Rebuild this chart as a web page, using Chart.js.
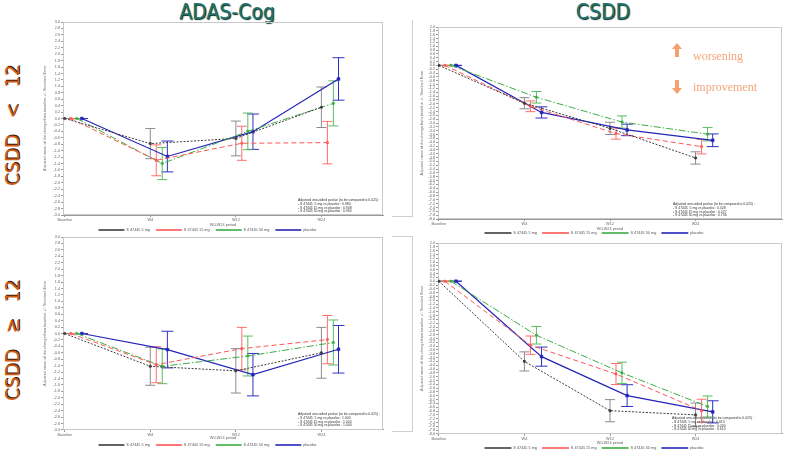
<!DOCTYPE html>
<html>
<head>
<meta charset="utf-8">
<script src="https://cdn.jsdelivr.net/npm/chart.js@4.4.0/dist/chart.umd.min.js"></script>
<style>
body { margin: 0; width: 789px; height: 452px; background: #fff; position: relative; overflow: hidden; }
canvas { position: absolute; }
.title { position: absolute; top: 1px; font-family: "DejaVu Sans Condensed", "DejaVu Sans"; font-size: 21px; line-height: 22px; color: #1d756e; text-shadow: 1px 1px 1px #062b28; transform: translateX(-50%); white-space: nowrap; }
.row { position: absolute; left: 2px; font-family: "DejaVu Sans Condensed", "DejaVu Sans"; font-size: 20px; line-height: 20px; color: #cf5d16; text-shadow: 1px 1px 0 #3b1700; white-space: nowrap; transform-origin: 0 0; transform: rotate(-90deg); word-spacing: 10px; }
.edge { position: absolute; border: 1px solid #cfcfcf; border-left: none; }
.note { position: absolute; font-family: "Liberation Serif"; font-size: 12px; line-height: 12px; color: #f4a57a; }
.up, .down { position: absolute; width: 10px; height: 14px; }
.up::before, .down::before { content: ""; position: absolute; left: 0; border-left: 5px solid transparent; border-right: 5px solid transparent; }
.up::before { top: 0; border-bottom: 6px solid #f4a070; }
.down::before { bottom: 0; border-top: 6px solid #f4a070; }
.up::after, .down::after { content: ""; position: absolute; left: 3px; width: 4px; height: 8px; background: #f4a070; }
.up::after { top: 6px; }
.down::after { top: 0; }
</style>
</head>
<body>
<div class="title" style="left:227px">ADAS-Cog</div>
<div class="title" style="left:603px">CSDD</div>
<div class="row" style="top:186px">CSDD &lt; 12</div>
<div class="row" style="top:401px">CSDD ≥ 12</div>
<div class="edge" style="left:392px; top:20px; width:20px; height:196px; border-top:none"></div>
<div class="edge" style="left:392px; top:236px; width:20px; height:194px"></div>

<canvas id="adasLow"></canvas>
<canvas id="csddLow"></canvas>
<canvas id="adasHigh"></canvas>
<canvas id="csddHigh"></canvas>

<div class="up" style="left:672px; top:43px"></div>
<div class="note" style="left:693px; top:50px">worsening</div>
<div class="down" style="left:672px; top:80px"></div>
<div class="note" style="left:693px; top:81px">improvement</div>

<script>
const visits = ['Baseline', 'W4', 'W12', 'W24'];
const groups = ['S 47445 5 mg', 'S 47445 15 mg', 'S 47445 50 mg', 'placebo'];
const shift = [0, 0.07, 0.14, 0.2];

// ADAS-Cog, CSDD < 12
const adasLowMean = [
    [0, -0.78, -0.62, 0.35],
    [0, -1.30, -0.77, -0.75],
    [0, -1.40, -0.40, 0.47],
    [0, -1.18, -0.41, 1.23]
];
const adasLowSe = [
    [0, 0.47, 0.54, 0.63],
    [0, 0.48, 0.53, 0.66],
    [0, 0.50, 0.57, 0.70],
    [0, 0.48, 0.55, 0.66]
];
const adasLowP = ['0.980', '0.948', '0.960'];

// CSDD, CSDD < 12
const csddLowMean = [
    [0, -1.97, -3.28, -4.82],
    [0, -2.13, -3.55, -4.23],
    [0, -1.66, -2.95, -3.58],
    [0, -2.45, -3.36, -3.90]
];
const csddLowSe = [
    [0, 0.29, 0.32, 0.32],
    [0, 0.28, 0.29, 0.38],
    [0, 0.30, 0.32, 0.35],
    [0, 0.29, 0.30, 0.33]
];
const csddLowP = ['0.028', '0.227', '0.736'];

// ADAS-Cog, CSDD >= 12
const adasHighMean = [
    [0, -1.02, -1.16, -0.60],
    [0, -0.97, -0.47, -0.19],
    [0, -1.02, -0.70, -0.28],
    [0, -0.50, -1.28, -0.49]
];
const adasHighSe = [
    [0, 0.59, 0.69, 0.79],
    [0, 0.56, 0.66, 0.75],
    [0, 0.54, 0.62, 0.70],
    [0, 0.57, 0.66, 0.74]
];
const adasHighP = ['1.000', '1.000', '1.000'];

// CSDD, CSDD >= 12
const csddHighMean = [
    [0, -4.20, -6.78, -7.00],
    [0, -3.35, -4.86, -6.78],
    [0, -2.83, -4.80, -6.56],
    [0, -3.95, -5.99, -6.84]
];
const csddHighSe = [
    [0, 0.50, 0.58, 0.62],
    [0, 0.48, 0.55, 0.60],
    [0, 0.46, 0.56, 0.55],
    [0, 0.50, 0.57, 0.58]
];
const csddHighP = ['0.013', '0.030', '0.610'];

const lineColor = ['#3c3c3c', '#ff5656', '#3dac48', '#2424b8'];
const barColor = ['#8c8c8c', '#ff6e6e', '#5abd62', '#3030c4'];
const dashes = [[2, 1.5], [5, 3], [7, 2, 1.5, 2], []];
const small = { family: 'Liberation Sans', size: 3.8 };
const grey = '#666';

const framePlugin = {
    id: 'frame',
    beforeDatasetsDraw(chart) {
        const a = chart.chartArea;
        const ctx = chart.ctx;
        ctx.save();
        ctx.strokeStyle = '#c8c8c8';
        ctx.lineWidth = 1;
        ctx.strokeRect(a.left + 0.5, a.top + 0.5, a.right - a.left - 1, a.bottom - a.top - 1);
        ctx.restore();
    }
};

const notesPlugin = {
    id: 'notes',
    afterDraw(chart, args, opts) {
        const ctx = chart.ctx;
        ctx.save();
        ctx.font = '3.4px "Liberation Sans"';
        ctx.fillStyle = '#333';
        ctx.textBaseline = 'middle';
        opts.lines.forEach(function (t, i) {
            ctx.fillText(t, opts.x, opts.y + i * 3.8);
        });
        ctx.restore();
    }
};

function legendItems(chart) {
    const items = Chart.defaults.plugins.legend.labels.generateLabels(chart);
    items.forEach(function (it) { it.lineWidth = 1.6; });
    return items;
}

function makeChart(id, box, means, ses, pvals, yMin, yMax, xMin, xMax) {
    const canvas = document.getElementById(id);
    const xh = 7;
    const legendTop = box.bottom + xh;
    const pad = box.legendY - legendTop - small.size / 2;
    const legendH = small.size + pad + 10;
    const h = Math.ceil(legendTop + legendH + 1 - box.top0);
    const padBottom = h - (legendTop + legendH - box.top0);
    const lh = small.size * 1.2;
    canvas.width = box.width;
    canvas.height = h;
    canvas.style.left = box.left0 + 'px';
    canvas.style.top = box.top0 + 'px';

    let datasets = [];
    groups.forEach(function (g, s) {
        datasets.push({
            label: g,
            data: visits.map(function (v, i) { return { x: i + shift[s], y: means[s][i] }; }),
            borderColor: lineColor[s],
            backgroundColor: lineColor[s],
            borderWidth: s === 3 ? 1.2 : 1,
            borderDash: dashes[s],
            pointStyle: s === 3 ? 'rect' : 'circle',
            pointRadius: s === 3 ? 2 : 1.3,
            pointBorderWidth: 0.5,
            tension: 0
        });
    });
    groups.forEach(function (g, s) {
        visits.forEach(function (v, i) {
            const x = i + shift[s];
            datasets.push({
                label: 'se',
                data: [{ x: x, y: means[s][i] - ses[s][i] }, { x: x, y: means[s][i] + ses[s][i] }],
                borderColor: barColor[s],
                borderWidth: 1,
                pointStyle: 'line',
                pointRadius: s === 3 ? 6 : 5,
                pointBorderColor: barColor[s],
                pointBorderWidth: 1
            });
        });
    });

    const notes = ['Adjusted one-sided pvalue (to be compared to 0.025) :'];
    ['5', '15', '50'].forEach(function (d, i) {
        notes.push('- S 47445 ' + (d.length < 2 ? ' ' : '') + d + ' mg vs placebo : ' + pvals[i]);
    });

    return new Chart(canvas, {
        type: 'line',
        data: { datasets: datasets },
        plugins: [framePlugin, notesPlugin],
        options: {
            responsive: false,
            animation: false,
            events: [],
            layout: {
                padding: {
                    top: box.top - box.top0,
                    right: box.left0 + box.width - box.right,
                    bottom: padBottom,
                    left: 0
                }
            },
            plugins: {
                tooltip: { enabled: false },
                legend: {
                    position: 'bottom',
                    labels: {
                        generateLabels: legendItems,
                        filter: function (item) { return item.datasetIndex < 4; },
                        usePointStyle: true,
                        pointStyle: 'line',
                        pointStyleWidth: 32 - pad,
                        padding: pad,
                        color: '#555',
                        font: small
                    }
                },
                notes: { lines: notes, x: box.noteX - box.left0, y: box.noteY - box.top0 }
            },
            scales: {
                x: {
                    type: 'linear',
                    min: xMin,
                    max: xMax,
                    afterFit: function (scale) { scale.height = xh; },
                    ticks: {
                        stepSize: 1,
                        includeBounds: false,
                        callback: function (v) { return visits[v]; },
                        autoSkip: false,
                        maxRotation: 0,
                        padding: 1,
                        font: small,
                        color: grey
                    },
                    grid: { drawOnChartArea: false, tickLength: 2, color: '#999' },
                    border: { color: '#999' },
                    title: {
                        display: true,
                        text: 'W0-W24 period',
                        font: small,
                        color: grey,
                        padding: { top: 0, bottom: legendTop - lh / 2 - box.xTitleY }
                    }
                },
                y: {
                    min: yMin,
                    max: yMax,
                    afterFit: function (scale) { scale.width = box.left - box.left0; },
                    ticks: {
                        stepSize: 0.2,
                        maxTicksLimit: 80,
                        autoSkip: false,
                        padding: 1,
                        font: small,
                        color: grey,
                        callback: function (v) { return (Math.abs(v) < 1e-9 ? 0 : v).toFixed(1); }
                    },
                    grid: { drawOnChartArea: false, tickLength: 2, color: '#999' },
                    border: { color: '#999' },
                    title: {
                        display: true,
                        text: 'Adjusted mean of the change from baseline +/- Standard Error',
                        font: small,
                        color: grey,
                        padding: { top: box.yTitleX - box.left0 - lh / 2, bottom: 0 }
                    }
                }
            }
        }
    });
}

makeChart('adasLow',
    { left0: 30, top0: 15, width: 360, left: 63, top: 22, right: 385, bottom: 215,
      legendY: 230, xTitleY: 225, yTitleX: 45, noteX: 298, noteY: 200 },
    adasLowMean, adasLowSe, adasLowP, -3, 3, -0.02, 3.72);

makeChart('csddLow',
    { left0: 400, top0: 20, width: 389, left: 438, top: 26, right: 788, bottom: 219,
      legendY: 233, xTitleY: 229, yTitleX: 422, noteX: 673, noteY: 204 },
    csddLowMean, csddLowSe, csddLowP, -8, 2, -0.01, 4.01);

makeChart('adasHigh',
    { left0: 30, top0: 230, width: 360, left: 63, top: 237, right: 385, bottom: 430,
      legendY: 445, xTitleY: 438, yTitleX: 45, noteX: 298, noteY: 414 },
    adasHighMean, adasHighSe, adasHighP, -3, 3, -0.02, 3.72);

makeChart('csddHigh',
    { left0: 400, top0: 236, width: 389, left: 438, top: 242, right: 788, bottom: 434,
      legendY: 448, xTitleY: 443, yTitleX: 422, noteX: 672, noteY: 418 },
    csddHighMean, csddHighSe, csddHighP, -8, 2, -0.01, 4.01);
</script>
</body>
</html>
